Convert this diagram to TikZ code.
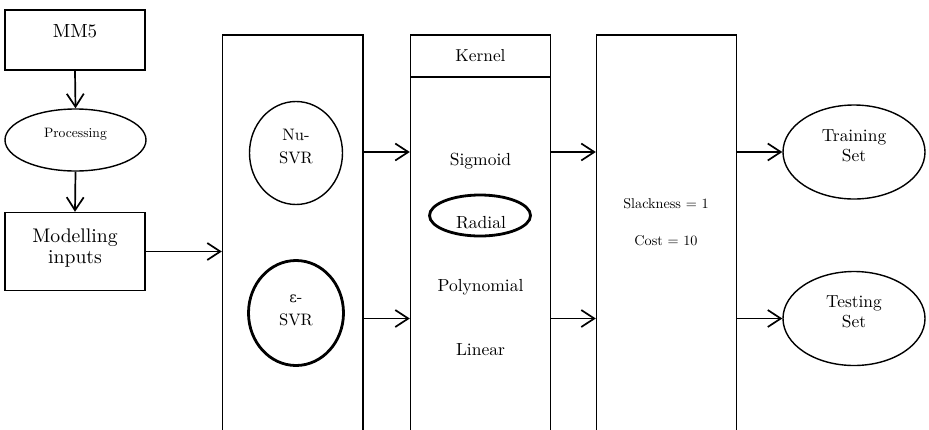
\documentclass[tikz,border=0pt]{standalone}
\usepackage{fontspec}
% Latin Modern at its 10pt design, scaled freely
\setmainfont{lmroman10-regular}[Extension=.otf]
% upright Greek letter
\newfontfamily\greekfont{DejaVu Serif}
\usetikzlibrary{arrows.meta,shapes.geometric}
% shift a label visually while keeping its box size
\newcommand{\liftby}[2]{\raisebox{#1}[\height][\depth]{#2}}
\begin{document}
\begin{tikzpicture}[x=1pt,y=-1pt,
  rect/.style={draw,line width=1.4pt,inner sep=0pt,align=center},
  oval/.style={draw,ellipse,line width=1.4pt,inner sep=0pt,align=center},
  thickoval/.style={oval,line width=2.8pt},
  arr/.style={line width=1.7pt,-{Straight Barb[length=13pt,width=17pt]}},
  plain/.style={inner sep=0pt}]
\useasboundingbox (0,0) rectangle (929,429);
\clip (0,0) rectangle (929,429);

% left column
\node[rect,minimum width=140pt,minimum height=60pt,font=\fontsize{19}{21}\selectfont]
  (mm5) at (75,40) {\liftby{8.5pt}{MM5}};
\node[oval,minimum width=141pt,minimum height=62pt,font=\fontsize{13.6}{15}\selectfont]
  (proc) at (75.5,140) {\liftby{5.5pt}{Processing}};
\node[rect,minimum width=140pt,minimum height=78pt,font=\fontsize{19.7}{21.5}\selectfont]
  (model) at (75,251.5) {\liftby{3pt}{\shortstack{Modelling\\[1pt]inputs}}};

% SVR type column
\node[rect,minimum width=140.5pt,minimum height=410pt] (svr) at (292.75,240) {};
\node[oval,minimum width=93pt,minimum height=103pt,font=\fontsize{16.6}{22}\selectfont]
  (nu) at (296,153) {\liftby{5pt}{\begin{tabular}{@{}c@{}}Nu-\\[1pt]SVR\end{tabular}}};
\node[thickoval,minimum width=95pt,minimum height=105pt,font=\fontsize{16.6}{22}\selectfont]
  (eps) at (296,313) {\liftby{3pt}{\begin{tabular}{@{}c@{}}{\greekfont\fontsize{14.5}{16}\selectfont ε}-\\[1pt]SVR\end{tabular}}};

% kernel column
\node[rect,minimum width=140pt,minimum height=410pt] (kern) at (480.5,240) {};
\node[rect,minimum width=140pt,minimum height=42pt,font=\fontsize{17.3}{19}\selectfont]
  (kernhead) at (480.5,56) {Kernel};
\node[plain,font=\fontsize{17.5}{19}\selectfont] (sigmoid) at (480.5,161) {Sigmoid};
\node[thickoval,minimum width=101pt,minimum height=41pt] (radialring) at (480,215.5) {};
\node[plain,font=\fontsize{17.5}{19}\selectfont] (radial) at (481,223) {Radial};
\node[plain,font=\fontsize{17.5}{19}\selectfont] (poly) at (480.5,287) {Polynomial};
\node[plain,font=\fontsize{17.5}{19}\selectfont] (linear) at (480.5,350) {Linear};

% parameter column
\node[rect,minimum width=140pt,minimum height=410pt] (param) at (666.5,240) {};
\node[plain,font=\fontsize{14.2}{16}\selectfont] (slack) at (666,204) {Slackness = 1};
\node[plain,font=\fontsize{14.2}{16}\selectfont] (cost) at (666,241) {Cost = 10};

% data sets
\node[oval,minimum width=142pt,minimum height=94pt,font=\fontsize{17.4}{20}\selectfont]
  (train) at (854,152) {\liftby{5pt}{\begin{tabular}{@{}c@{}}Training\\[0pt]Set\end{tabular}}};
\node[oval,minimum width=142pt,minimum height=94pt,font=\fontsize{17.4}{20}\selectfont]
  (test) at (854,318.5) {\liftby{5pt}{\begin{tabular}{@{}c@{}}Testing\\[0pt]Set\end{tabular}}};

% rows of the horizontal connectors
\coordinate (row1) at (0,152);
\coordinate (row2) at (0,318.5);

% connectors
\draw[arr] (mm5.south) -- (proc.north);
\draw[arr] (proc.south) -- (model.north);
\draw[arr] (model.east) -- (svr.west |- model.east);
\draw[arr] (svr.east |- row1) -- (kern.west |- row1);
\draw[arr] (svr.east |- row2) -- (kern.west |- row2);
\draw[arr] (kern.east |- row1) -- (param.west |- row1);
\draw[arr] (kern.east |- row2) -- (param.west |- row2);
\draw[arr] (param.east |- train.west) -- (train.west);
\draw[arr] (param.east |- test.west) -- (test.west);
\end{tikzpicture}
\end{document}
